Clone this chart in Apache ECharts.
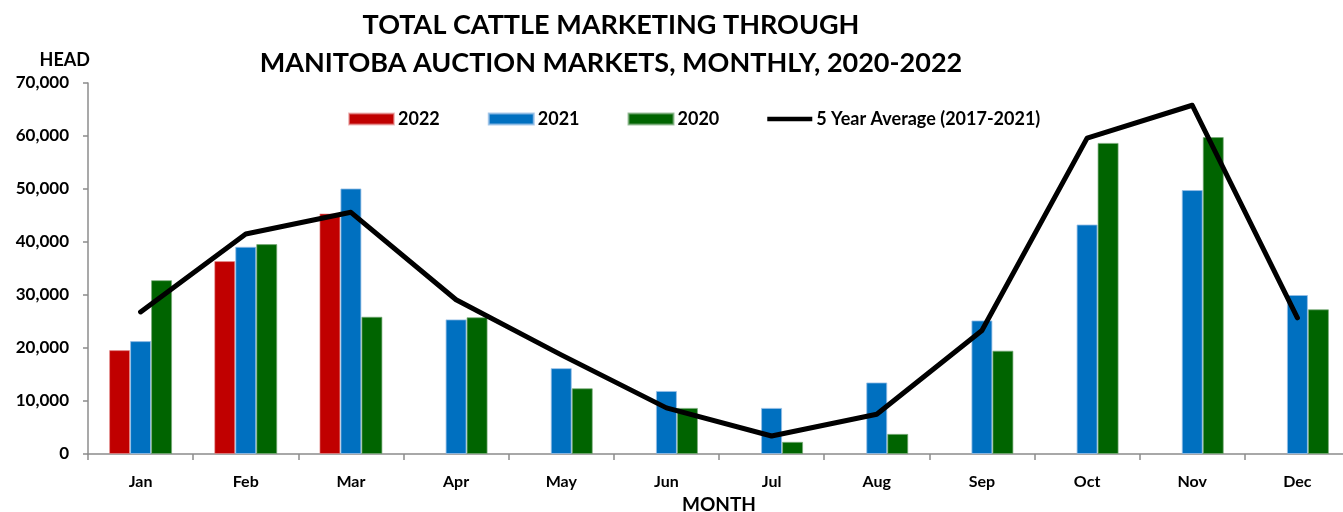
<!DOCTYPE html>
<html>
<head>
<meta charset="utf-8">
<script src="https://cdn.jsdelivr.net/npm/echarts@6/dist/echarts.min.js"></script>
<style>
html,body{margin:0;padding:0;background:#fff;}
#chart{width:1343px;height:512px;}
</style>
</head>
<body>
<div id="chart"></div>
<script>
var months = ['Jan','Feb','Mar','Apr','May','Jun','Jul','Aug','Sep','Oct','Nov','Dec'];
var v2022 = [19600, 36400, 45400, null, null, null, null, null, null, null, null, null];
var v2021 = [21300, 39100, 50100, 25400, 16200, 11900, 8700, 13500, 25200, 43300, 49800, 30000];
var v2020 = [32800, 39600, 25900, 25800, 12400, 8700, 2300, 3800, 19500, 58700, 59800, 27300];
var avg5 = [26800, 41500, 45600, 29100, 18700, 8700, 3400, 7500, 23300, 59600, 65800, 25700];

var FONT = 'Lato';
var chart = echarts.init(document.getElementById('chart'));
chart.setOption({
  animation: false,
  backgroundColor: '#fff',
  title: {
    text: 'TOTAL CATTLE MARKETING THROUGH\nMANITOBA AUCTION MARKETS, MONTHLY, 2020-2022',
    left: 606, top: 1, textAlign: 'center',
    textStyle: {fontFamily: FONT, fontWeight: 'bold', fontSize: 27, lineHeight: 38, color: '#000'}
  },
  legend: {
    top: 105, left: 343,
    itemWidth: 45, itemHeight: 11, itemGap: 48,
    textStyle: {fontFamily: FONT, fontWeight: 'bold', fontSize: 18, color: '#000', padding: [0,0,0,-1]},
    data: [
      {name: '2022', icon: 'rect'},
      {name: '2021', icon: 'rect'},
      {name: '2020', icon: 'rect'},
      {name: '5 Year Average (2017-2021)', icon: 'path://M0,0 L49,0 L49,5 L0,5 Z', itemStyle: {color: '#000'}}
    ]
  },
  grid: {left: 88, top: 83, width: 1262, height: 371, containLabel: false, outerBoundsMode: 'none'},
  xAxis: {
    type: 'category', data: months,
    name: 'MONTH', nameLocation: 'middle', nameGap: 40,
    nameTextStyle: {fontFamily: FONT, fontWeight: 'bold', fontSize: 19, color: '#000'},
    axisLine: {lineStyle: {color: '#8c8c8c', width: 1.5}},
    axisTick: {show: true, length: 6, lineStyle: {color: '#8c8c8c', width: 1.5}},
    axisLabel: {fontFamily: FONT, fontWeight: 'bold', fontSize: 16, color: '#000', margin: 20}
  },
  yAxis: {
    type: 'value', min: 0, max: 70000, interval: 10000,
    name: 'HEAD', nameLocation: 'end', nameGap: 14,
    nameTextStyle: {fontFamily: FONT, fontWeight: 'bold', fontSize: 18, color: '#000', align: 'right', padding: [0, -2, 0, 0]},
    axisLine: {show: true, lineStyle: {color: '#8c8c8c', width: 1.5}},
    axisTick: {show: true, length: 5, lineStyle: {color: '#8c8c8c', width: 1.5}},
    splitLine: {show: false},
    axisLabel: {
      fontFamily: FONT, fontWeight: 'bold', fontSize: 17, color: '#000', margin: 19,
      formatter: function (v) { return v.toLocaleString('en-US'); }
    }
  },
  series: [
    {name: '2022', type: 'bar', data: v2022, barWidth: 21, barGap: '0%',
     itemStyle: {color: '#C00000', borderColor: 'rgba(230,150,150,0.6)', borderWidth: 1}},
    {name: '2021', type: 'bar', data: v2021, barWidth: 21, barGap: '0%',
     itemStyle: {color: '#0070C0', borderColor: 'rgba(150,190,230,0.8)', borderWidth: 1}},
    {name: '2020', type: 'bar', data: v2020, barWidth: 21, barGap: '0%',
     itemStyle: {color: '#006400', borderColor: 'rgba(120,170,120,0.7)', borderWidth: 1}},
    {name: '5 Year Average (2017-2021)', type: 'line', data: avg5, z: 5,
     showSymbol: false, symbol: 'none', smooth: false,
     lineStyle: {color: '#000', width: 5, cap: 'round', join: 'round'},
     itemStyle: {color: '#000'}}
  ]
});
</script>
</body>
</html>
